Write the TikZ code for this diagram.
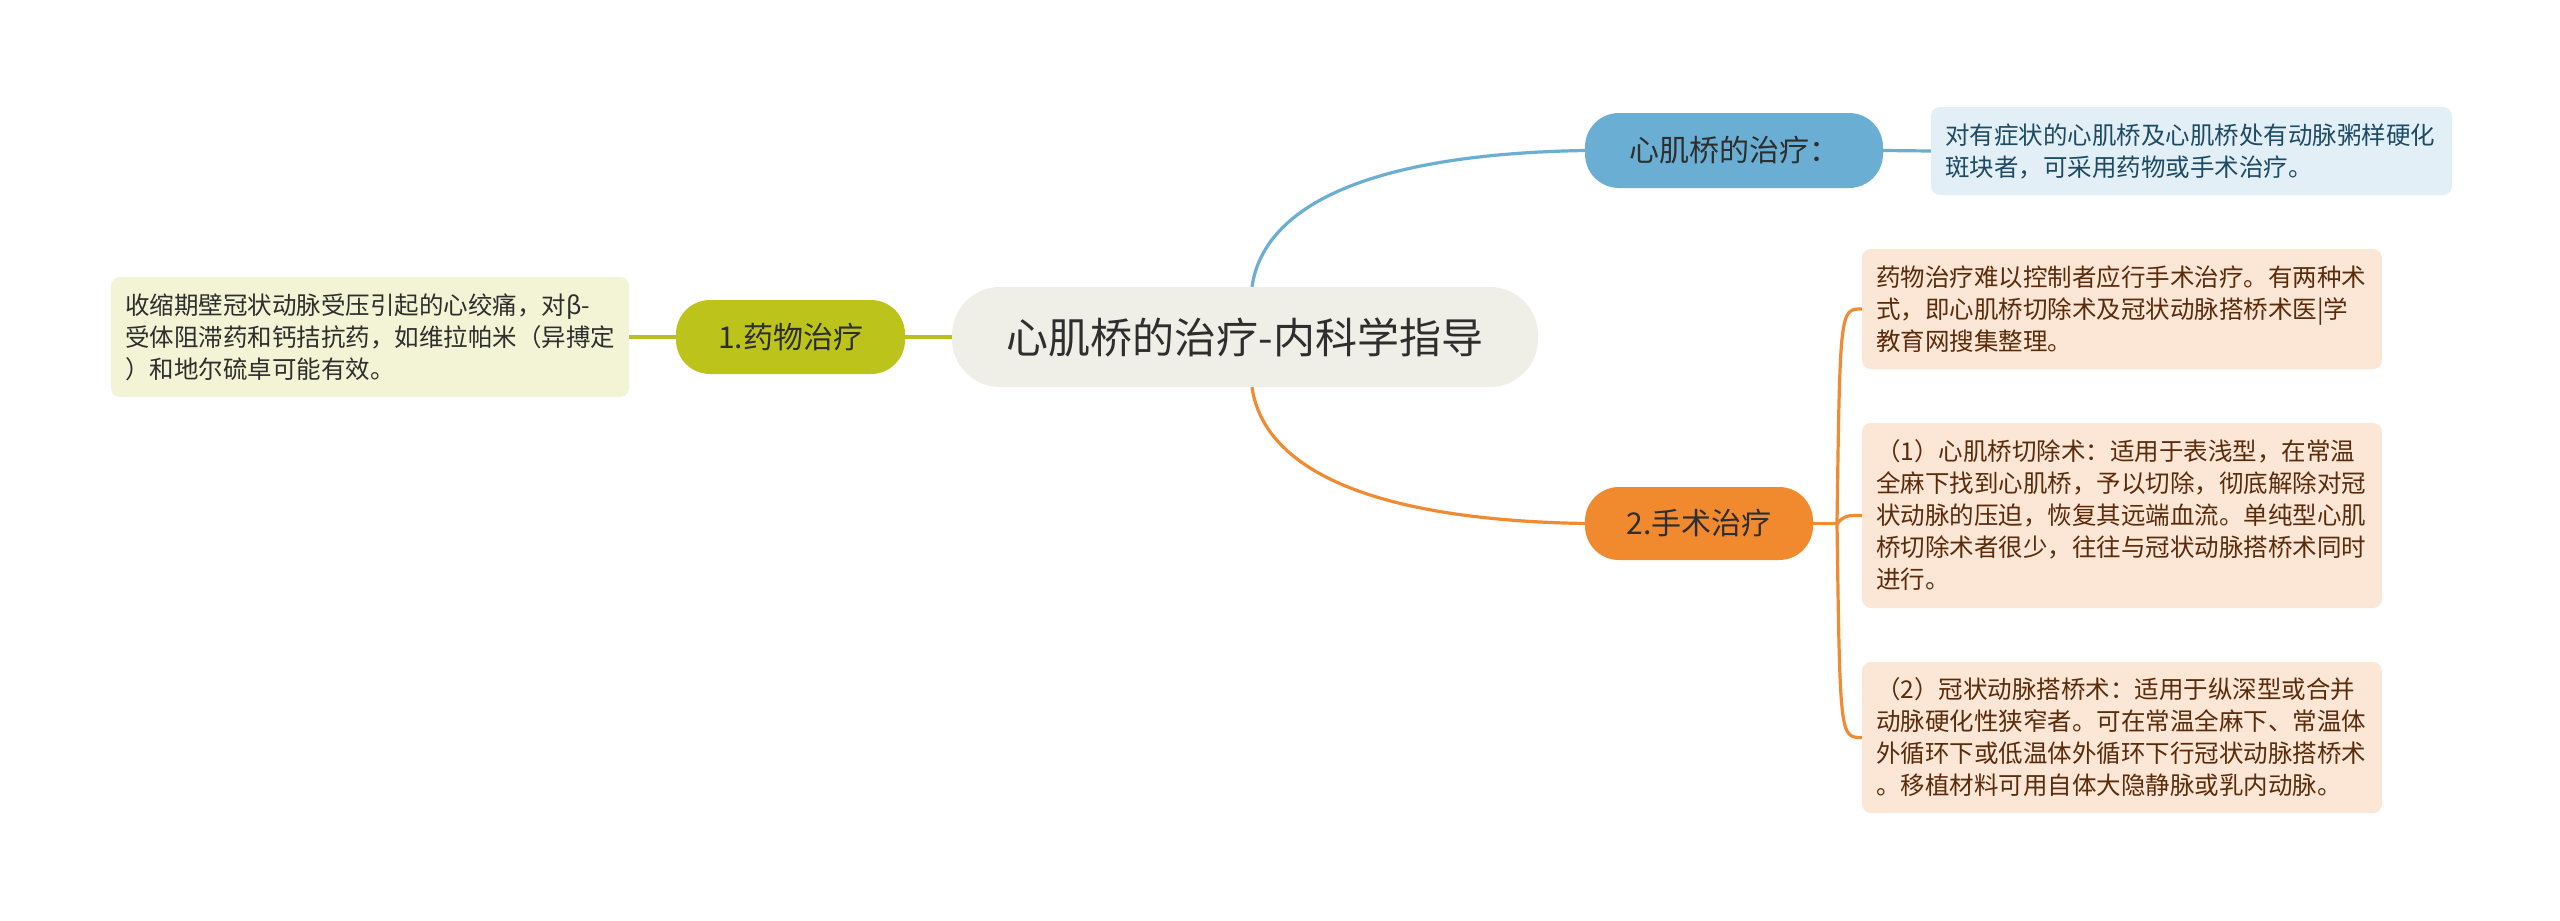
\documentclass[tikz,border=0pt]{standalone}
\usepackage{fontspec}
\setmainfont{Noto Sans CJK SC}
\definecolor{hubfill}{HTML}{EFEFE8}
\definecolor{txtdark}{HTML}{2E2E2E}
\definecolor{grn}{HTML}{BCC41C}
\definecolor{grnline}{HTML}{B8C023}
\definecolor{grnleaf}{HTML}{F2F4D5}
\definecolor{blu}{HTML}{6AAFD3}
\definecolor{bluleaf}{HTML}{E2EFF7}
\definecolor{blutxt}{HTML}{1E4A63}
\definecolor{org}{HTML}{F18A2F}
\definecolor{orgline}{HTML}{EE8B33}
\definecolor{orgleaf}{HTML}{FCE6D5}
\definecolor{orgtxt}{HTML}{5B2C0B}
\begin{document}
\begin{tikzpicture}[x=1pt,y=-1pt,
  hub/.style={fill=hubfill, rounded corners=48pt, inner sep=0pt,
    minimum width=586pt, minimum height=100pt, text=txtdark,
    font=\fontsize{42}{50}\selectfont},
  branch/.style={rounded corners=34pt, inner sep=0pt, minimum height=74pt,
    text=txtdark, font=\fontsize{30}{36}\selectfont},
  leaf/.style={rounded corners=9pt, inner xsep=14pt, inner ysep=0pt,
    align=left, font=\fontsize{24.5}{32}\selectfont},
  conn/.style={line width=3.2pt}
]
\useasboundingbox (0,0) rectangle (2560,921);
\fill[white] (0,0) rectangle (2560,921);

% nodes
\node[hub] (c) at (1245,337) {心肌桥的治疗-内科学指导};
\node[branch, fill=grn, minimum width=229pt] (g) at (790.5,337) {1.药物治疗};
\node[branch, fill=blu, minimum width=298pt, minimum height=75pt] (b) at (1734,150.5) {心肌桥的治疗：};
\node[branch, fill=org, minimum width=228pt, minimum height=73pt] (o) at (1699,523.5) {2.手术治疗};

\node[leaf, fill=grnleaf, text=txtdark, text width=490pt, minimum height=120pt] (ll) at (370,337)
  {收缩期壁冠状动脉受压引起的心绞痛，对β-\\受体阻滞药和钙拮抗药，如维拉帕米（异搏定\\）和地尔硫卓可能有效。};
\node[leaf, fill=bluleaf, text=blutxt, text width=493pt, minimum height=88pt] (bl) at (2191.5,151)
  {对有症状的心肌桥及心肌桥处有动脉粥样硬化\\斑块者，可采用药物或手术治疗。};
\node[leaf, fill=orgleaf, text=orgtxt, text width=492pt, minimum height=120pt] (l1) at (2122,309)
  {药物治疗难以控制者应行手术治疗。有两种术\\式，即心肌桥切除术及冠状动脉搭桥术医|学\\教育网搜集整理。};
\node[leaf, fill=orgleaf, text=orgtxt, text width=492pt, minimum height=185pt] (l2) at (2122,515.5)
  {（1）心肌桥切除术：适用于表浅型，在常温\\全麻下找到心肌桥，予以切除，彻底解除对冠\\状动脉的压迫，恢复其远端血流。单纯型心肌\\桥切除术者很少，往往与冠状动脉搭桥术同时\\进行。};
\node[leaf, fill=orgleaf, text=orgtxt, text width=492pt, minimum height=151pt] (l3) at (2122,737.5)
  {（2）冠状动脉搭桥术：适用于纵深型或合并\\动脉硬化性狭窄者。可在常温全麻下、常温体\\外循环下或低温体外循环下行冠状动脉搭桥术\\。移植材料可用自体大隐静脉或乳内动脉。};

% connectors
\draw[conn, grnline] (c.west) -- (g.east);
\draw[conn, grnline] (g.west) -- (ll.east);
\draw[conn, blu] ([xshift=7pt]c.north) .. controls (1260,230) and (1320,155) .. (b.west);
\draw[conn, blu] (b.east) -- (bl.west);
\draw[conn, orgline] ([xshift=7pt]c.south) .. controls (1260,444) and (1320,519) .. (o.west);
\coordinate (br) at (1837,523.5);
\draw[conn, orgline] (o.east) -- (br);
\draw[conn, orgline] (br) .. controls (1840,309) .. (l1.west);
\draw[conn, orgline] (br) .. controls (1845,515.5) .. (l2.west);
\draw[conn, orgline] (br) .. controls (1840,737.5) .. (l3.west);
\end{tikzpicture}
\end{document}
